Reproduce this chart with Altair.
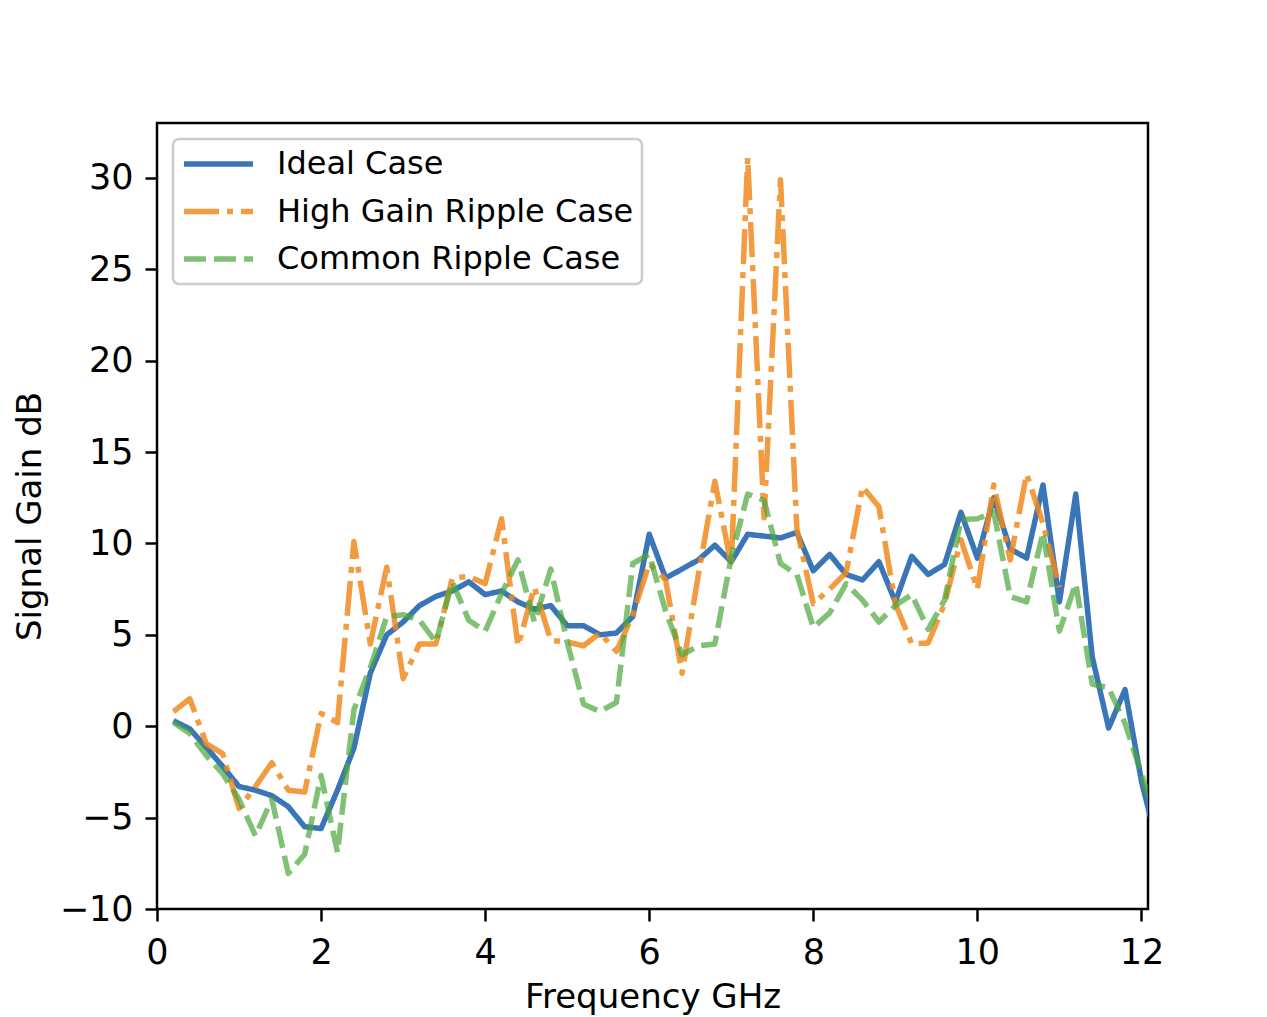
import altair as alt
import pandas as pd

freq = [0.2, 0.4, 0.6, 0.8, 1.0, 1.2, 1.4, 1.6, 1.8, 2.0,
        2.2, 2.4, 2.6, 2.8, 3.0, 3.2, 3.4, 3.6, 3.8, 4.0,
        4.2, 4.4, 4.6, 4.8, 5.0, 5.2, 5.4, 5.6, 5.8, 6.0,
        6.2, 6.4, 6.6, 6.8, 7.0, 7.2, 7.4, 7.6, 7.8, 8.0,
        8.2, 8.4, 8.6, 8.8, 9.0, 9.2, 9.4, 9.6, 9.8, 10.0,
        10.2, 10.4, 10.6, 10.8, 11.0, 11.2, 11.4, 11.6, 11.8, 12.0,
        12.2]

ideal = [0.3, -0.15, -1.15, -2.2, -3.3, -3.5, -3.8, -4.4, -5.5, -5.6,
         -3.5, -1.2, 2.9, 5.0, 5.7, 6.6, 7.1, 7.4, 7.9, 7.2,
         7.4, 6.8, 6.4, 6.6, 5.5, 5.5, 5.0, 5.1, 6.0, 10.5,
         8.1, 8.6, 9.1, 9.9, 9.0, 10.5, 10.4, 10.3, 10.6, 8.5,
         9.4, 8.3, 8.0, 9.0, 6.8, 9.3, 8.3, 8.85, 11.7, 9.2,
         12.5, 9.7, 9.2, 13.2, 6.8, 12.7, 3.8, -0.1, 2.0, -3.0,
         -6.6]

high_gain = [0.8, 1.5, -0.95, -1.5, -4.5, -3.3, -2.0, -3.5, -3.6, 0.7,
             0.2, 10.1, 4.5, 8.7, 2.6, 4.5, 4.5, 8.1, 8.2, 7.8,
             11.35, 4.4, 7.6, 4.7, 4.6, 4.4, 5.1, 4.1, 6.1, 8.9,
             8.0, 2.9, 8.3, 13.4, 8.8, 31.1, 11.4, 29.9, 10.8, 6.7,
             7.5, 8.4, 13.1, 12.0, 6.7, 4.5, 4.55, 6.7, 10.2, 7.5,
             13.2, 9.1, 13.8, 11.1, 7.6]

common = [0.2, -0.4, -1.6, -2.6, -4.0, -6.0, -4.0, -8.05, -7.0, -2.7,
          -6.9, 0.9, 3.2, 6.0, 6.1, 5.8, 4.6, 7.9, 5.8, 5.2,
          7.25, 9.1, 5.7, 8.6, 4.6, 1.2, 0.8, 1.3, 8.9, 9.4,
          6.3, 3.9, 4.4, 4.5, 9.25, 12.7, 12.35, 8.9, 8.3, 5.4,
          6.2, 7.8, 6.9, 5.7, 6.6, 7.2, 5.3, 6.9, 11.3, 11.35,
          11.7, 7.1, 6.8, 10.6, 5.2, 7.8, 2.3, 2.1, 0.15, -2.6,
          -5.5]

series_names = ["Ideal Case", "High Gain Ripple Case", "Common Ripple Case"]
x_ticks = [0, 2, 4, 6, 8, 10, 12]
y_ticks = [-10, -5, 0, 5, 10, 15, 20, 25, 30]

rows = []
for name, vals in zip(series_names, [ideal, high_gain, common]):
    for f, v in zip(freq, vals):
        rows.append({"freq": f, "gain": v, "series": name})
df = pd.DataFrame(rows)

FONT = "DejaVu Sans"

color_scale = alt.Scale(domain=series_names, range=["#3a75b7", "#f08a1e", "#4aa63a"])
dash_scale = alt.Scale(domain=series_names, range=[[1, 0], [35, 8, 6, 8], [22, 8]])
opacity_scale = alt.Scale(domain=series_names, range=[1.0, 0.7, 0.7])

legend = alt.Legend(
    title=None,
    orient="none",
    legendX=16,
    legendY=16,
    symbolType="stroke",
    symbolSize=4761,
    symbolStrokeWidth=5.5,
    clipHeight=34,
    labelFontSize=32,
    labelFont=FONT,
    labelColor="black",
    labelOffset=21,
    labelLimit=1000,
    rowPadding=13.5,
    padding=8,
    fillColor="white",
    strokeColor="#cccccc",
    cornerRadius=6,
)

x_enc = alt.X("freq:Q", title="Frequency GHz",
              scale=alt.Scale(domain=[0, 12.08], nice=False, zero=False),
              axis=alt.Axis(values=x_ticks, format="d", labelFlush=False))
y_enc = alt.Y("gain:Q", title="Signal Gain dB",
              scale=alt.Scale(domain=[-10, 33], nice=False, zero=False),
              axis=alt.Axis(values=y_ticks, format="d", labelFlush=False))


def layer(name):
    return alt.Chart(df).transform_filter(
        alt.datum.series == name
    ).mark_line(clip=True, strokeWidth=5.5, strokeCap="butt", strokeJoin="round").encode(
        x=x_enc,
        y=y_enc,
        color=alt.Color("series:N", scale=color_scale, legend=legend),
        strokeDash=alt.StrokeDash("series:N", scale=dash_scale, legend=legend),
        opacity=alt.Opacity("series:N", scale=opacity_scale, legend=legend),
        order=alt.Order("freq:Q"),
    )


chart = alt.layer(*[layer(n) for n in series_names]).resolve_scale(
    color="shared", strokeDash="shared", opacity="shared"
).properties(
    width=991,
    height=786,
    autosize=alt.AutoSizeParams(type="none"),
    padding={"left": 149, "top": 115, "right": 111, "bottom": 108},
    background="white",
).configure_view(
    stroke="black",
    strokeWidth=2.5,
).configure_legend(
    strokeWidth=2.5,
).configure_axis(
    grid=False,
    domain=False,
    ticks=True,
    tickSize=12,
    tickWidth=2.5,
    tickColor="black",
    labelFont=FONT,
    labelFontSize=35,
    labelColor="black",
    titleFont=FONT,
    titleFontSize=34,
    titleFontWeight="normal",
    titleColor="black",
).configure_axisX(
    labelPadding=14,
    titlePadding=10,
).configure_axisY(
    labelPadding=12,
    titlePadding=12,
)

chart.save("out.html", embed_options={"renderer": "svg", "actions": False})
